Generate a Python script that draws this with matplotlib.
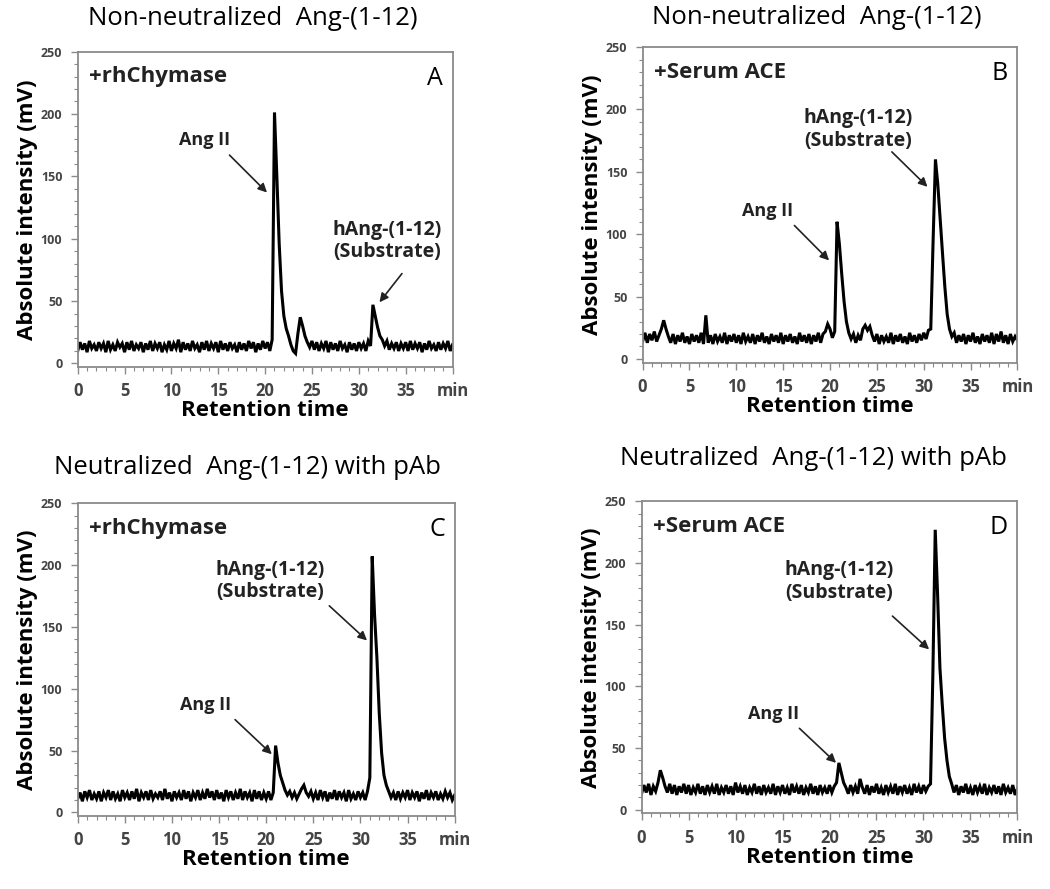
import matplotlib
matplotlib.use("Agg")
import matplotlib.pyplot as plt
from matplotlib.ticker import MultipleLocator, FixedLocator
import numpy as np

plt.rcParams['font.family'] = ['Open Sans', 'DejaVu Sans']

# retention time grid (min), one reading every 0.25 min
time = np.linspace(0, 40, 161)

# panel A: non-neutralized, +rhChymase
sig_a = [10, 17, 11, 16, 9, 18, 12, 15, 10, 17,
         12, 16, 9, 18, 11, 15, 10, 17, 13, 16,
         9, 17, 11, 18, 10, 15, 12, 17, 9, 16,
         11, 18, 10, 16, 12, 17, 9, 15, 11, 18,
         10, 16, 12, 19, 9, 17, 11, 16, 10, 18,
         12, 15, 9, 17, 11, 18, 10, 16, 12, 17,
         9, 18, 11, 16, 10, 17, 12, 15, 9, 17,
         11, 16, 10, 18, 12, 17, 9, 16, 11, 18,
         12, 17, 10, 19, 201, 150, 96, 58, 38, 28,
         22, 15, 10, 8, 24, 37, 30, 22, 17, 13,
         18, 11, 17, 10, 16, 12, 18, 9, 17, 11,
         16, 10, 18, 12, 15, 9, 17, 11, 16, 10,
         17, 12, 16, 10, 18, 14, 47, 38, 29, 22,
         19, 14, 18, 11, 16, 12, 17, 10, 16, 12,
         17, 10, 18, 11, 16, 12, 17, 9, 16, 11,
         18, 12, 15, 10, 17, 11, 16, 12, 18, 10,
         15]

# panel B: non-neutralized, +Serum ACE
sig_b = [14, 21, 13, 20, 15, 22, 14, 19, 24, 31,
         24, 18, 13, 20, 12, 19, 14, 21, 13, 18,
         12, 20, 14, 19, 13, 21, 12, 35, 13, 19,
         12, 20, 14, 18, 13, 21, 12, 19, 14, 20,
         13, 19, 12, 21, 14, 18, 13, 20, 12, 19,
         14, 21, 13, 18, 12, 20, 14, 19, 13, 21,
         12, 19, 14, 20, 13, 18, 12, 21, 14, 19,
         13, 20, 12, 19, 14, 21, 13, 20, 22, 28,
         24, 17, 22, 110, 92, 68, 46, 30, 21, 16,
         20, 13, 19, 15, 24, 27, 23, 26, 19, 14,
         20, 12, 19, 14, 18, 13, 21, 12, 19, 14,
         20, 13, 18, 12, 21, 14, 19, 13, 20, 15,
         21, 16, 23, 24, 95, 160, 140, 112, 85, 58,
         36, 24, 18, 21, 13, 19, 14, 20, 12, 19,
         14, 21, 13, 18, 12, 20, 14, 19, 13, 21,
         12, 20, 14, 22, 13, 19, 12, 20, 14, 18,
         15]

# panel C: neutralized with pAb, +rhChymase
sig_c = [11, 16, 9, 17, 12, 18, 10, 15, 11, 17,
         9, 16, 12, 18, 10, 17, 11, 15, 9, 18,
         12, 16, 10, 17, 11, 19, 9, 16, 12, 17,
         10, 18, 11, 15, 12, 17, 10, 19, 11, 16,
         9, 17, 12, 16, 10, 18, 11, 17, 9, 16,
         12, 18, 10, 16, 11, 19, 12, 17, 10, 18,
         11, 16, 9, 18, 12, 17, 10, 16, 11, 19,
         10, 17, 12, 16, 9, 18, 11, 17, 10, 16,
         11, 17, 10, 16, 54, 40, 30, 24, 18, 14,
         17, 12, 16, 11, 15, 19, 22, 16, 13, 17,
         11, 16, 10, 18, 12, 17, 9, 16, 11, 18,
         10, 17, 12, 16, 9, 18, 11, 15, 10, 17,
         12, 16, 10, 17, 28, 207, 160, 125, 80, 48,
         30, 22, 17, 12, 16, 10, 17, 11, 16, 12,
         18, 10, 16, 12, 17, 9, 16, 11, 18, 10,
         16, 12, 17, 10, 15, 11, 17, 12, 16, 10,
         14]

# panel D: neutralized with pAb, +Serum ACE
sig_d = [13, 20, 14, 21, 12, 19, 15, 22, 32, 26,
         19, 14, 21, 13, 20, 12, 19, 14, 21, 13,
         20, 12, 18, 14, 21, 13, 19, 12, 20, 14,
         19, 13, 21, 12, 18, 14, 20, 13, 19, 12,
         22, 14, 19, 13, 20, 12, 18, 14, 21, 13,
         19, 12, 20, 14, 18, 13, 21, 12, 19, 14,
         20, 13, 18, 12, 21, 14, 19, 13, 20, 12,
         18, 14, 21, 13, 19, 12, 20, 14, 18, 13,
         20, 14, 19, 22, 38, 30, 22, 18, 13, 20,
         14, 19, 13, 25, 18, 13, 20, 12, 19, 14,
         21, 13, 18, 12, 20, 14, 19, 13, 21, 12,
         19, 14, 20, 13, 18, 12, 21, 14, 19, 13,
         20, 15, 19, 21, 110, 227, 175, 115, 85, 58,
         40, 27, 21, 14, 20, 12, 19, 14, 21, 13,
         18, 12, 20, 14, 19, 13, 21, 12, 18, 14,
         20, 13, 19, 12, 21, 14, 18, 13, 20, 12,
         17]

titles = ["Non-neutralized  Ang-(1-12)", "Non-neutralized  Ang-(1-12)",
          "Neutralized  Ang-(1-12) with pAb", "Neutralized  Ang-(1-12) with pAb"]
enzymes = ["+rhChymase", "+Serum ACE", "+rhChymase", "+Serum ACE"]
letters = ["A", "B", "C", "D"]
xtick_labels = ["0", "5", "10", "15", "20", "25", "30", "35", "min"]

# annotation text positions / arrow tails / arrow heads (data units)
angii_notes = [((13.5, 179), (16.2, 167), (20.2, 137)),
               ((13.3, 119), (16.2, 107), (19.9, 79)),
               ((13.6, 87), (16.7, 75), (20.6, 47)),
               ((14.1, 78), (16.8, 66), (20.7, 38))]
sub_notes = [((33.0, 98), (34.6, 72), (32.2, 49)),
             ((23.0, 184), (26.6, 166), (30.4, 138)),
             ((20.4, 187), (26.7, 167), (30.7, 139)),
             ((21.0, 185), (26.7, 157), (30.6, 130))]

# axes boxes [left, bottom, width, height] in figure fractions
boxes = [[0.074, 0.587, 0.357, 0.355],
         [0.612, 0.592, 0.357, 0.355],
         [0.074, 0.082, 0.359, 0.352],
         [0.611, 0.085, 0.358, 0.351]]
title_pos = [(0.241, 0.979), (0.778, 0.980), (0.236, 0.474), (0.775, 0.484)]

fig = plt.figure(figsize=(10.5, 8.89), dpi=100)
spine_col = '#8a8a8a'
traces = [sig_a, sig_b, sig_c, sig_d]

for i in range(4):
    ax = fig.add_axes(boxes[i])
    ax.plot(time, traces[i], color='black', lw=2.2, solid_joinstyle='miter')
    ax.set_xlim(0, 40)
    ax.set_ylim(-3, 250)
    ax.xaxis.set_major_locator(FixedLocator(np.arange(0, 41, 5)))
    ax.set_xticklabels(xtick_labels)
    ax.xaxis.set_minor_locator(MultipleLocator(1))
    ax.yaxis.set_major_locator(FixedLocator([0, 50, 100, 150, 200, 250]))
    ax.yaxis.set_minor_locator(MultipleLocator(10))
    ax.tick_params(which='major', direction='out', length=5, width=1, color=spine_col)
    ax.tick_params(which='minor', direction='out', length=3, width=0.8, color=spine_col)
    ax.tick_params(axis='x', labelsize=12, labelcolor='#444444', pad=6)
    ax.tick_params(axis='y', labelsize=9, labelcolor='#444444', pad=6)
    for lab in ax.get_xticklabels() + ax.get_yticklabels():
        lab.set_fontweight('bold')
    for sp in ax.spines.values():
        sp.set_color(spine_col)
        sp.set_linewidth(1.3)

    ax.set_xlabel("Retention time", fontsize=16, fontweight='bold', labelpad=0)
    ax.set_ylabel("Absolute intensity (mV)", fontsize=16, fontweight='bold', labelpad=2)

    ax.text(0.03, 0.92, enzymes[i], transform=ax.transAxes, fontsize=16,
            fontweight='bold', ha='left', va='center', color='#222222')
    ax.text(0.975, 0.915, letters[i], transform=ax.transAxes, fontsize=18,
            ha='right', va='center')

    txt, tail, head = angii_notes[i]
    ax.text(txt[0], txt[1], "Ang II", fontsize=13, fontweight='bold',
            ha='center', va='center', color='#222222')
    ax.annotate("", xy=head, xytext=tail,
                arrowprops=dict(arrowstyle='-|>', color='#222222', lw=1.2,
                                mutation_scale=13, shrinkA=0, shrinkB=0))
    txt, tail, head = sub_notes[i]
    ax.text(txt[0], txt[1], "hAng-(1-12)\n(Substrate)", fontsize=14,
            fontweight='bold', ha='center', va='center', color='#222222',
            linespacing=1.15)
    ax.annotate("", xy=head, xytext=tail,
                arrowprops=dict(arrowstyle='-|>', color='#222222', lw=1.2,
                                mutation_scale=13, shrinkA=0, shrinkB=0))

    fig.text(title_pos[i][0], title_pos[i][1], titles[i], fontsize=18.5,
             ha='center', va='center')

fig.savefig("out.png", dpi=100)
